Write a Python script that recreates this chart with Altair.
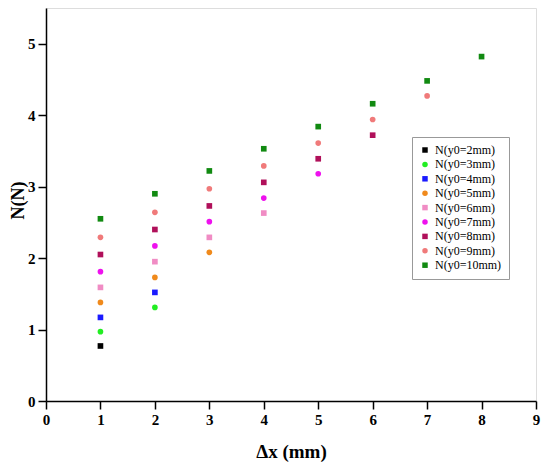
import altair as alt
import pandas as pd

series_names = ["N(y0=2mm)", "N(y0=3mm)", "N(y0=4mm)", "N(y0=5mm)", "N(y0=6mm)",
                "N(y0=7mm)", "N(y0=8mm)", "N(y0=9mm)", "N(y0=10mm)"]
series_colors = ["#000000", "#22ee22", "#1a1aff", "#f08a1c", "#f08cc4",
                 "#ee11ee", "#b0105a", "#f07a7a", "#118a11"]
series_shapes = ["square", "circle", "square", "circle", "square",
                 "circle", "square", "circle", "square"]

dx_values = [1, 2, 3, 4, 5, 6, 7, 8]

n_2mm = [0.77]
n_3mm = [0.97, 1.31]
n_4mm = [1.17, 1.52]
n_5mm = [1.38, 1.73, 2.08]
n_6mm = [1.59, 1.95, 2.29, 2.63]
n_7mm = [1.81, 2.17, 2.51, 2.84, 3.18]
n_8mm = [2.05, 2.40, 2.73, 3.06, 3.39, 3.72]
n_9mm = [2.29, 2.64, 2.97, 3.29, 3.61, 3.94, 4.27]
n_10mm = [2.55, 2.90, 3.22, 3.53, 3.84, 4.16, 4.48, 4.82]

all_series = [n_2mm, n_3mm, n_4mm, n_5mm, n_6mm, n_7mm, n_8mm, n_9mm, n_10mm]

rows = []
for name, vals in zip(series_names, all_series):
    for dx, v in zip(dx_values, vals):
        rows.append({"dx": dx, "N": v, "series": name})
df = pd.DataFrame(rows)

FONT = "Liberation Serif"
W, H = 490, 393

x_axis = alt.Axis(
    values=[i * 0.5 for i in range(19)],
    labelExpr="datum.value % 1 === 0 ? datum.label : ''",
    tickSize={"condition": {"test": "datum.value % 1 === 0", "value": 8}, "value": 4},
    labelFont=FONT, labelFontSize=15, labelFontWeight="bold", labelColor="black",
    labelPadding=3, format="d",
    title="Δx (mm)", titleFont=FONT, titleFontSize=19, titleFontWeight="bold",
    titleColor="black", titleX=W / 2, titleY=50, titleBaseline="middle",
    domainColor="black", domainWidth=1.5, tickColor="black", tickWidth=1.5,
    grid=False, labelFlush=False,
)
y_axis = alt.Axis(
    values=[i * 0.5 for i in range(12)],
    labelExpr="datum.value % 1 === 0 ? datum.label : ''",
    tickSize={"condition": {"test": "datum.value % 1 === 0", "value": 8}, "value": 4},
    labelFont=FONT, labelFontSize=15, labelFontWeight="bold", labelColor="black",
    labelPadding=3, format="d",
    title="N(N)", titleFont=FONT, titleFontSize=18, titleFontWeight="bold",
    titleColor="black", titleX=-28, titleY=192, titleAngle=-90,
    titleBaseline="middle", titleAlign="center",
    domainColor="black", domainWidth=1.5, tickColor="black", tickWidth=1.5,
    grid=False, labelFlush=False,
)

legend = alt.Legend(
    title=None, orient="none", legendX=366, legendY=129,
    labelFont=FONT, labelFontSize=12, labelColor="black",
    symbolSize=30, rowPadding=2.4, padding=7,
    strokeColor="#999999", fillColor="white", labelLimit=200,
)

chart = alt.Chart(df).mark_point(filled=True, opacity=1, size=32).encode(
    x=alt.X("dx:Q", scale=alt.Scale(domain=[0, 9], nice=False, zero=True), axis=x_axis),
    y=alt.Y("N:Q", scale=alt.Scale(domain=[0, 5.5], nice=False), axis=y_axis),
    color=alt.Color("series:N", scale=alt.Scale(domain=series_names, range=series_colors), legend=legend),
    shape=alt.Shape("series:N", scale=alt.Scale(domain=series_names, range=series_shapes), legend=legend),
).properties(
    width=W, height=H,
    autosize=alt.AutoSizeParams(type="none"),
    padding={"left": 38, "top": 0, "right": 6, "bottom": 63},
).configure_view(
    stroke="black", strokeWidth=1.5,
).configure(background="white")

chart.save("out.html", embed_options={"renderer": "svg", "actions": False})
